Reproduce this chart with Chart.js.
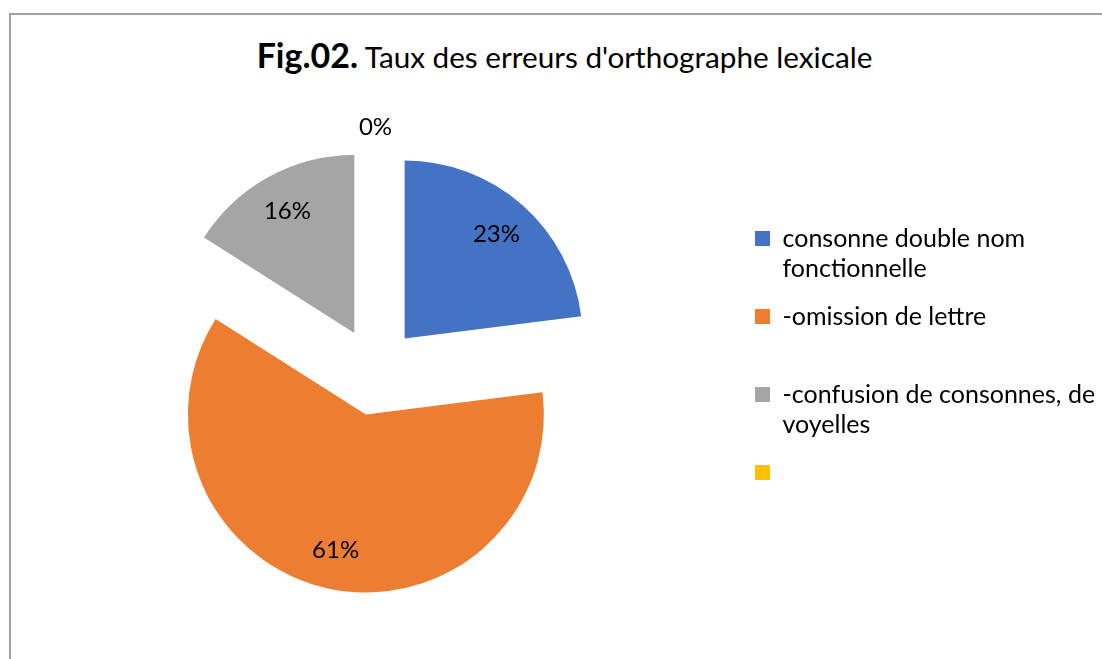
<!DOCTYPE html>
<html>
<head>
<meta charset="utf-8">
<script src="https://cdn.jsdelivr.net/npm/chart.js@4.4.1/dist/chart.umd.min.js"></script>
<style>
  html, body { margin: 0; padding: 0; background: #fff; overflow: hidden; }
  body { width: 1102px; height: 659px; position: relative; font-family: Lato, sans-serif; color: #000; }
  .frame {
    position: absolute; left: 9px; top: 13px; width: 1200px; height: 800px;
    border-top: 2px solid #a2a2a2; border-left: 2px solid #a2a2a2;
  }
  .title {
    position: absolute; left: 0; top: 36px; width: 1129px; line-height: 38px;
    text-align: center; font-size: 29.7px; white-space: nowrap;
  }
  .title b { font-size: 34px; }
  canvas { position: absolute; left: 0; top: 0; }
</style>
</head>
<body>
<div class="frame"></div>
<div class="title"><b>Fig.02.</b> Taux des erreurs d'orthographe lexicale</div>
<canvas id="pie" width="1102" height="659"></canvas>
<script>
/* ── DATA ───────────────────────────────────────── */
const categories = [
  ["consonne double nom", "fonctionnelle"],
  ["-omission de lettre", ""],
  ["-confusion de consonnes, de", "voyelles"],
  "",
];
const shares = [23, 61, 16, 0];
const sliceColors = ["#4472C4", "#ED7D31", "#A5A5A5", "#FFC000"];

const EXPLODE = 44; // how far every slice is pulled out, px
const RADIUS = 178;

/* ── PLUGINS ────────────────────────────────────── */
// pull each slice out along its bisector (Chart.js offset also grows big slices)
const explodePlugin = {
  id: "explode",
  afterDatasetsUpdate(chart) {
    chart.getDatasetMeta(0).data.forEach((arc) => {
      const mid = (arc.startAngle + arc.endAngle) / 2;
      arc.x += Math.cos(mid) * EXPLODE;
      arc.y += Math.sin(mid) * EXPLODE;
    });
  },
};

// percentage labels, empty slices get theirs outside
const sliceLabels = {
  id: "sliceLabels",
  afterDatasetsDraw(chart) {
    const { ctx } = chart;
    const arcs = chart.getDatasetMeta(0).data;
    ctx.save();
    ctx.font = "24px Lato";
    ctx.fillStyle = "#000";
    ctx.textAlign = "center";
    ctx.textBaseline = "middle";
    arcs.forEach((arc, i) => {
      const mid = (arc.startAngle + arc.endAngle) / 2;
      const dist = shares[i] === 0 ? arc.outerRadius + 22 : arc.outerRadius * 0.78;
      ctx.fillText(
        shares[i] + "%",
        arc.x + Math.cos(mid) * dist,
        arc.y + Math.sin(mid) * dist
      );
    });
    ctx.restore();
  },
};

/* ── CHART ──────────────────────────────────────── */
new Chart(document.getElementById("pie"), {
  type: "pie",
  data: {
    labels: categories,
    datasets: [
      {
        data: shares,
        backgroundColor: sliceColors,
        borderWidth: 0,
        radius: RADIUS,
      },
    ],
  },
  options: {
    responsive: false,
    animation: false,
    events: [],
    layout: { padding: { left: 14, top: 208, right: 0, bottom: 124 } },
    plugins: {
      title: { display: false },
      tooltip: { enabled: false },
      legend: {
        position: "right",
        align: "start",
        maxWidth: 365,
        labels: {
          boxWidth: 15,
          boxHeight: 15,
          padding: 18,
          color: "#000",
          font: { family: "Lato", size: 25, lineHeight: "30px" },
        },
      },
    },
  },
  plugins: [explodePlugin, sliceLabels],
});
</script>
</body>
</html>
